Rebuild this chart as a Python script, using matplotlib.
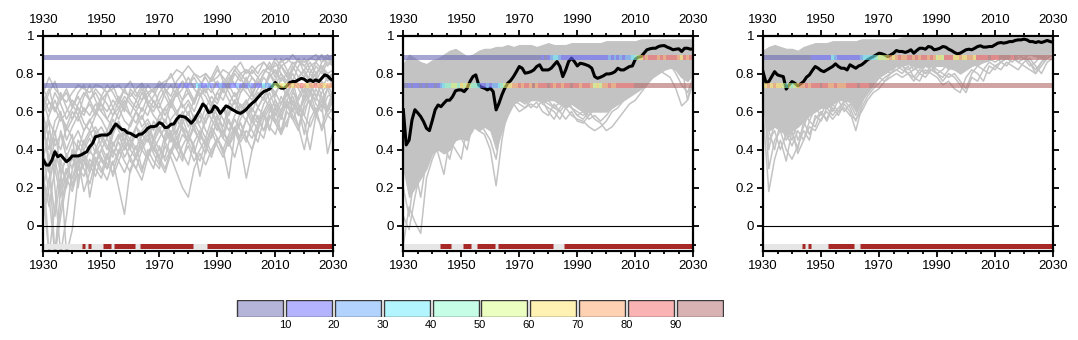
import numpy as np
import matplotlib
matplotlib.use("Agg")
import matplotlib.pyplot as plt
from matplotlib.colors import ListedColormap
from matplotlib.patches import Rectangle
from matplotlib.ticker import FixedLocator, MultipleLocator

plt.rcParams['font.family'] = ['Liberation Sans', 'DejaVu Sans']

# ---------------- data ----------------
years = np.arange(1930, 2031)
member_years = np.arange(1930, 2031, 2)
xtick_labels = ['1930', '1950', '1970', '1990', '2010', '2030']
ytick_labels = ['0', '0.2', '0.4', '0.6', '0.8', '1']
cbar_labels = ['10', '20', '30', '40', '50', '60', '70', '80', '90']
cbar_colors = ['#b5b5da', '#b3b3ff', '#b3d3ff', '#b3f5ff', '#c6fde6',
               '#ebffc0', '#fff2b3', '#ffd1b3', '#f9b3b3', '#d9b3b3']
thresholds = [0.885, 0.736]

p1_mean = [0.346, 0.319, 0.319, 0.346, 0.389, 0.363, 0.372, 0.354, 0.337, 0.349,
           0.367, 0.367, 0.367, 0.372, 0.381, 0.389, 0.416, 0.433, 0.468, 0.472,
           0.477, 0.477, 0.477, 0.486, 0.512, 0.535, 0.521, 0.507, 0.504, 0.489,
           0.486, 0.477, 0.468, 0.481, 0.482, 0.495, 0.512, 0.521, 0.521, 0.525,
           0.542, 0.535, 0.516, 0.518, 0.533, 0.535, 0.560, 0.577, 0.574, 0.570,
           0.556, 0.539, 0.556, 0.582, 0.609, 0.640, 0.626, 0.595, 0.600, 0.630,
           0.618, 0.591, 0.609, 0.630, 0.623, 0.612, 0.604, 0.595, 0.591, 0.600,
           0.612, 0.630, 0.644, 0.656, 0.674, 0.691, 0.705, 0.711, 0.718, 0.735,
           0.753, 0.735, 0.723, 0.723, 0.735, 0.753, 0.758, 0.758, 0.767, 0.775,
           0.770, 0.758, 0.767, 0.758, 0.767, 0.758, 0.775, 0.793, 0.788, 0.772,
           0.763]
p2_mean = [0.610, 0.425, 0.450, 0.556, 0.610, 0.593, 0.574, 0.547, 0.512, 0.500,
           0.553, 0.610, 0.635, 0.626, 0.644, 0.660, 0.660, 0.679, 0.709, 0.714,
           0.714, 0.705, 0.723, 0.758, 0.784, 0.793, 0.740, 0.728, 0.723, 0.714,
           0.723, 0.705, 0.609, 0.644, 0.688, 0.723, 0.749, 0.763, 0.784, 0.810,
           0.837, 0.828, 0.802, 0.805, 0.810, 0.819, 0.837, 0.846, 0.819, 0.819,
           0.819, 0.828, 0.846, 0.863, 0.837, 0.784, 0.819, 0.863, 0.881, 0.863,
           0.840, 0.854, 0.851, 0.846, 0.840, 0.828, 0.784, 0.775, 0.781, 0.788,
           0.798, 0.798, 0.802, 0.810, 0.828, 0.819, 0.819, 0.828, 0.837, 0.840,
           0.875, 0.886, 0.889, 0.907, 0.925, 0.930, 0.933, 0.933, 0.942, 0.946,
           0.947, 0.939, 0.933, 0.925, 0.928, 0.930, 0.916, 0.933, 0.933, 0.928,
           0.930]
p3_mean = [0.810, 0.753, 0.758, 0.784, 0.810, 0.793, 0.788, 0.784, 0.718, 0.740,
           0.758, 0.749, 0.735, 0.746, 0.758, 0.781, 0.793, 0.816, 0.837, 0.828,
           0.816, 0.810, 0.819, 0.828, 0.837, 0.851, 0.837, 0.828, 0.828, 0.819,
           0.846, 0.837, 0.828, 0.840, 0.846, 0.858, 0.872, 0.881, 0.889, 0.898,
           0.907, 0.904, 0.898, 0.889, 0.898, 0.907, 0.921, 0.916, 0.916, 0.911,
           0.916, 0.925, 0.907, 0.921, 0.933, 0.933, 0.928, 0.942, 0.939, 0.925,
           0.928, 0.933, 0.942, 0.939, 0.928, 0.921, 0.911, 0.904, 0.907, 0.916,
           0.925, 0.928, 0.925, 0.933, 0.942, 0.946, 0.939, 0.939, 0.942, 0.942,
           0.951, 0.960, 0.963, 0.960, 0.963, 0.968, 0.968, 0.974, 0.977, 0.977,
           0.981, 0.977, 0.968, 0.968, 0.963, 0.968, 0.963, 0.968, 0.974, 0.968,
           0.965]

# ensemble members (every 2 years)
p1_members = [
    [0.70,0.78,0.72,0.68,0.65,0.70,0.74,0.72,0.70,0.74,0.73,0.70,0.72,0.74,0.70,0.68,0.72,0.75,0.70,0.72,0.74,0.76,0.78,0.82,0.80,0.84,0.80,0.78,0.80,0.76,0.78,0.82,0.80,0.84,0.80,0.82,0.80,0.84,0.86,0.82,0.84,0.86,0.88,0.85,0.87,0.86,0.88,0.87,0.89,0.88,0.86],
    [0.60,0.65,0.62,0.55,0.60,0.66,0.62,0.58,0.66,0.70,0.64,0.60,0.66,0.62,0.68,0.64,0.60,0.66,0.70,0.65,0.62,0.70,0.74,0.68,0.72,0.78,0.72,0.68,0.74,0.70,0.76,0.72,0.78,0.74,0.80,0.76,0.72,0.78,0.82,0.80,0.76,0.84,0.80,0.86,0.82,0.78,0.84,0.86,0.82,0.88,0.84],
    [0.50,0.40,0.55,0.60,0.45,0.52,0.58,0.50,0.55,0.60,0.56,0.50,0.58,0.62,0.55,0.52,0.60,0.56,0.64,0.58,0.54,0.62,0.66,0.60,0.64,0.58,0.66,0.70,0.62,0.68,0.64,0.72,0.66,0.60,0.70,0.74,0.68,0.76,0.72,0.78,0.82,0.76,0.80,0.72,0.78,0.82,0.76,0.80,0.84,0.78,0.80],
    [0.30,-0.15,0.10,0.35,0.20,0.40,0.30,0.45,0.38,0.50,0.42,0.35,0.48,0.55,0.45,0.40,0.52,0.48,0.44,0.55,0.50,0.45,0.56,0.60,0.52,0.48,0.58,0.54,0.62,0.56,0.50,0.62,0.58,0.66,0.60,0.55,0.64,0.70,0.66,0.74,0.70,0.64,0.72,0.60,0.68,0.74,0.70,0.66,0.76,0.72,0.74],
    [0.45,0.55,0.20,-0.15,0.05,0.30,0.42,0.36,0.30,0.40,0.48,0.42,0.36,0.46,0.50,0.40,0.35,0.48,0.52,0.44,0.50,0.56,0.48,0.42,0.54,0.60,0.50,0.45,0.58,0.62,0.54,0.48,0.60,0.66,0.58,0.64,0.70,0.62,0.68,0.74,0.66,0.60,0.70,0.76,0.64,0.58,0.70,0.76,0.68,0.62,0.72],
    [0.20,0.35,0.50,0.30,-0.15,-0.02,0.25,0.35,0.28,0.40,0.34,0.30,0.44,0.38,0.50,0.45,0.36,0.42,0.48,0.40,0.46,0.52,0.46,0.40,0.48,0.44,0.52,0.58,0.50,0.46,0.56,0.62,0.54,0.50,0.60,0.66,0.58,0.54,0.64,0.70,0.62,0.56,0.66,0.72,0.62,0.48,0.64,0.72,0.66,0.60,0.70],
    [0.10,0.25,0.35,0.20,0.30,0.22,0.35,0.18,0.28,0.36,0.30,0.24,0.34,0.20,0.06,0.30,0.36,0.28,0.40,0.34,0.30,0.42,0.36,0.28,0.20,0.15,0.30,0.38,0.32,0.40,0.46,0.38,0.44,0.50,0.42,0.25,0.40,0.50,0.46,0.58,0.54,0.48,0.60,0.56,0.62,0.58,0.52,0.60,0.66,0.58,0.62],
    [0.55,0.30,0.05,0.25,0.38,0.30,0.45,0.40,0.15,0.32,0.40,0.46,0.38,0.44,0.36,0.42,0.48,0.40,0.35,0.46,0.52,0.44,0.38,0.50,0.56,0.48,0.42,0.26,0.40,0.52,0.46,0.40,0.48,0.56,0.50,0.44,0.56,0.62,0.58,0.50,0.64,0.58,0.52,0.66,0.60,0.54,0.40,0.58,0.64,0.38,0.50],
    [0.68,0.60,0.70,0.64,0.56,0.62,0.68,0.60,0.64,0.58,0.66,0.70,0.62,0.56,0.64,0.70,0.66,0.60,0.68,0.72,0.64,0.58,0.66,0.72,0.76,0.70,0.64,0.74,0.78,0.72,0.66,0.74,0.80,0.74,0.70,0.76,0.82,0.78,0.72,0.80,0.86,0.80,0.74,0.82,0.88,0.80,0.76,0.84,0.80,0.86,0.84],
    [0.40,0.15,-0.15,0.10,0.25,0.18,0.30,0.26,0.35,0.30,0.25,0.36,0.32,0.40,0.34,0.28,0.38,0.44,0.36,0.30,0.42,0.34,0.40,0.46,0.38,0.32,0.44,0.50,0.42,0.36,0.46,0.40,0.25,0.48,0.54,0.46,0.52,0.58,0.50,0.56,0.62,0.48,0.55,0.62,0.52,0.40,0.56,0.62,0.50,0.58,0.55],
    [0.65,0.72,0.60,0.66,0.72,0.64,0.58,0.68,0.74,0.66,0.60,0.70,0.74,0.66,0.60,0.72,0.68,0.74,0.66,0.62,0.70,0.74,0.80,0.72,0.66,0.74,0.80,0.76,0.70,0.78,0.84,0.76,0.72,0.80,0.76,0.82,0.78,0.74,0.80,0.84,0.78,0.88,0.82,0.76,0.84,0.88,0.82,0.78,0.86,0.90,0.85],
    [0.35,0.50,0.42,0.48,0.36,0.44,0.50,0.42,0.48,0.52,0.46,0.40,0.50,0.54,0.48,0.42,0.52,0.58,0.50,0.46,0.56,0.50,0.44,0.54,0.60,0.52,0.58,0.52,0.46,0.56,0.62,0.56,0.50,0.58,0.64,0.60,0.54,0.62,0.68,0.62,0.58,0.68,0.62,0.70,0.66,0.72,0.64,0.58,0.70,0.74,0.68],
    [0.58,0.45,0.30,0.50,0.40,0.48,0.20,0.40,0.46,0.38,0.44,0.50,0.42,0.48,0.40,0.46,0.52,0.44,0.50,0.40,0.36,0.48,0.54,0.46,0.52,0.44,0.38,0.48,0.55,0.60,0.52,0.46,0.56,0.48,0.56,0.62,0.56,0.50,0.60,0.66,0.58,0.64,0.70,0.64,0.58,0.68,0.74,0.68,0.62,0.72,0.76],
    [0.25,0.10,0.30,0.15,0.28,0.36,0.26,0.32,0.40,0.34,0.28,0.38,0.26,0.34,0.42,0.36,0.30,0.24,0.36,0.42,0.34,0.28,0.38,0.44,0.36,0.42,0.34,0.40,0.46,0.38,0.44,0.50,0.42,0.48,0.54,0.46,0.40,0.52,0.58,0.64,0.56,0.50,0.62,0.68,0.60,0.66,0.72,0.64,0.60,0.68,0.70],
    [0.72,0.65,0.60,0.70,0.62,0.56,0.64,0.70,0.66,0.60,0.68,0.64,0.58,0.66,0.72,0.66,0.62,0.70,0.64,0.68,0.74,0.68,0.62,0.70,0.76,0.72,0.66,0.74,0.70,0.78,0.74,0.70,0.76,0.82,0.78,0.72,0.78,0.74,0.80,0.86,0.80,0.84,0.78,0.82,0.88,0.84,0.80,0.86,0.90,0.84,0.88],
    [0.15,-0.15,-0.15,0.20,0.30,0.25,0.36,0.30,0.22,0.34,0.40,0.32,0.28,0.38,0.44,0.34,0.30,0.40,0.46,0.38,0.32,0.44,0.50,0.40,0.34,0.46,0.52,0.44,0.38,0.48,0.54,0.46,0.42,0.52,0.46,0.56,0.50,0.44,0.56,0.62,0.54,0.60,0.66,0.58,0.52,0.64,0.70,0.60,0.66,0.72,0.64],
    [0.48,0.58,0.66,0.58,0.50,0.56,0.62,0.54,0.50,0.58,0.64,0.56,0.52,0.60,0.66,0.58,0.54,0.62,0.58,0.66,0.60,0.54,0.64,0.70,0.62,0.66,0.60,0.68,0.72,0.64,0.70,0.66,0.74,0.68,0.72,0.78,0.70,0.76,0.72,0.80,0.74,0.80,0.76,0.84,0.78,0.82,0.86,0.80,0.84,0.80,0.82],
    [0.05,0.20,0.40,0.28,0.36,0.20,0.30,0.38,0.32,0.26,0.36,0.30,0.40,0.34,0.28,0.36,0.42,0.30,0.38,0.44,0.36,0.30,0.40,0.34,0.42,0.48,0.40,0.34,0.44,0.50,0.42,0.36,0.46,0.52,0.44,0.50,0.46,0.54,0.60,0.52,0.48,0.58,0.64,0.56,0.50,0.62,0.66,0.58,0.52,0.62,0.60],
    [0.62,0.70,0.76,0.66,0.70,0.62,0.70,0.74,0.66,0.72,0.68,0.74,0.70,0.64,0.72,0.76,0.70,0.66,0.74,0.70,0.76,0.72,0.68,0.76,0.80,0.74,0.78,0.72,0.80,0.76,0.82,0.78,0.74,0.82,0.86,0.80,0.84,0.80,0.86,0.82,0.88,0.84,0.86,0.90,0.86,0.84,0.88,0.90,0.86,0.88,0.90],
    [0.38,0.28,0.46,0.40,0.52,0.46,0.40,0.50,0.56,0.48,0.52,0.46,0.56,0.50,0.44,0.54,0.60,0.52,0.56,0.50,0.58,0.62,0.54,0.48,0.58,0.64,0.56,0.60,0.54,0.64,0.58,0.52,0.64,0.70,0.62,0.66,0.60,0.68,0.74,0.66,0.70,0.74,0.68,0.76,0.72,0.66,0.76,0.80,0.72,0.78,0.74],
    [0.52,0.35,-0.15,0.05,0.22,0.40,0.34,0.44,0.50,0.42,0.36,0.30,0.42,0.48,0.40,0.46,0.40,0.50,0.54,0.46,0.40,0.36,0.48,0.56,0.50,0.44,0.54,0.48,0.42,0.52,0.58,0.50,0.44,0.36,0.48,0.56,0.62,0.56,0.50,0.60,0.66,0.60,0.70,0.64,0.58,0.70,0.76,0.68,0.74,0.60,0.66],
    [0.66,0.55,0.48,0.58,0.52,0.60,0.55,0.62,0.58,0.64,0.60,0.56,0.62,0.68,0.62,0.58,0.66,0.72,0.64,0.60,0.66,0.72,0.64,0.58,0.66,0.70,0.64,0.72,0.68,0.62,0.70,0.76,0.70,0.64,0.74,0.70,0.66,0.72,0.78,0.74,0.68,0.78,0.74,0.80,0.74,0.70,0.80,0.76,0.82,0.76,0.80],
]
p2_core_hi = [0.85,0.90,0.88,0.86,0.85,0.87,0.88,0.90,0.92,0.93,0.91,0.89,0.90,0.92,0.93,0.93,0.94,0.94,0.95,0.94,0.95,0.95,0.95,0.94,0.95,0.96,0.95,0.95,0.95,0.96,0.96,0.96,0.96,0.96,0.96,0.97,0.97,0.97,0.97,0.97,0.97,0.98,0.98,0.98,0.98,0.98,0.98,0.98,0.98,0.98,0.98]
p2_core_lo = [0.30,0.15,0.20,0.25,0.30,0.38,0.40,0.38,0.40,0.45,0.46,0.45,0.52,0.50,0.52,0.50,0.40,0.50,0.58,0.64,0.66,0.65,0.66,0.66,0.65,0.66,0.66,0.64,0.62,0.64,0.62,0.60,0.60,0.60,0.60,0.60,0.62,0.64,0.66,0.68,0.70,0.72,0.75,0.78,0.80,0.82,0.83,0.82,0.78,0.76,0.80]
p2_members = [
    [0.05,-0.02,0.15,0.30,0.40,0.48,0.38,0.27,0.45,0.52,0.46,0.40,0.55,0.60,0.52,0.58,0.48,0.60,0.66,0.64,0.68,0.66,0.62,0.65,0.60,0.58,0.64,0.60,0.56,0.60,0.55,0.54,0.58,0.62,0.60,0.64,0.62,0.66,0.70,0.72,0.76,0.78,0.80,0.82,0.84,0.85,0.86,0.82,0.78,0.80,0.82],
    [-0.10,0.10,0.02,-0.04,0.25,0.35,0.42,0.50,0.45,0.40,0.35,0.52,0.55,0.50,0.48,0.40,0.21,0.45,0.62,0.66,0.64,0.62,0.66,0.68,0.64,0.62,0.60,0.56,0.62,0.58,0.56,0.55,0.52,0.50,0.52,0.55,0.60,0.62,0.66,0.70,0.72,0.75,0.78,0.80,0.82,0.80,0.78,0.72,0.63,0.66,0.75],
    [0.55,0.35,0.45,0.55,0.60,0.58,0.52,0.60,0.56,0.50,0.55,0.62,0.58,0.52,0.60,0.55,0.45,0.58,0.66,0.70,0.66,0.64,0.68,0.70,0.66,0.64,0.62,0.65,0.68,0.62,0.60,0.58,0.60,0.56,0.54,0.50,0.52,0.56,0.60,0.64,0.66,0.70,0.74,0.78,0.82,0.84,0.86,0.84,0.80,0.76,0.80],
    [0.20,0.05,0.30,0.15,0.35,0.45,0.50,0.42,0.35,0.48,0.52,0.45,0.50,0.56,0.50,0.45,0.35,0.55,0.60,0.64,0.60,0.62,0.64,0.62,0.66,0.60,0.56,0.62,0.66,0.62,0.58,0.60,0.56,0.58,0.55,0.58,0.62,0.64,0.66,0.68,0.72,0.76,0.78,0.80,0.82,0.84,0.85,0.80,0.74,0.70,0.78],
    [0.40,0.20,0.35,0.40,0.50,0.55,0.60,0.55,0.50,0.56,0.60,0.52,0.62,0.66,0.60,0.56,0.50,0.62,0.70,0.72,0.70,0.68,0.72,0.70,0.68,0.66,0.62,0.60,0.64,0.62,0.58,0.56,0.60,0.64,0.62,0.66,0.68,0.70,0.72,0.74,0.78,0.80,0.82,0.84,0.86,0.88,0.86,0.84,0.82,0.80,0.84],
    [0.65,0.50,0.60,0.65,0.55,0.62,0.68,0.64,0.60,0.66,0.70,0.62,0.68,0.72,0.66,0.62,0.55,0.66,0.72,0.74,0.72,0.70,0.74,0.72,0.70,0.68,0.66,0.64,0.68,0.66,0.62,0.60,0.58,0.62,0.60,0.62,0.66,0.68,0.70,0.74,0.76,0.80,0.84,0.86,0.88,0.86,0.88,0.86,0.84,0.66,0.80],
]
p3_core_hi = [0.92,0.94,0.95,0.94,0.93,0.93,0.92,0.94,0.95,0.96,0.96,0.96,0.97,0.97,0.97,0.97,0.97,0.98,0.98,0.98,0.98,0.98,0.98,0.98,0.99,0.99,0.99,0.99,0.99,0.99,0.99,0.99,0.99,0.99,0.99,0.99,0.99,0.99,0.99,0.99,0.99,0.99,0.99,0.99,0.99,0.99,0.99,0.99,0.99,0.99,0.99]
p3_core_lo = [0.70,0.50,0.52,0.50,0.48,0.50,0.52,0.55,0.58,0.60,0.62,0.62,0.64,0.66,0.66,0.65,0.60,0.66,0.70,0.74,0.78,0.80,0.82,0.84,0.84,0.85,0.84,0.83,0.84,0.84,0.84,0.84,0.83,0.82,0.80,0.82,0.84,0.85,0.86,0.87,0.88,0.88,0.88,0.89,0.90,0.90,0.90,0.89,0.88,0.90,0.92]
p3_members = [
    [0.60,0.18,0.35,0.45,0.34,0.50,0.40,0.55,0.48,0.56,0.60,0.55,0.62,0.58,0.64,0.60,0.50,0.62,0.68,0.72,0.75,0.78,0.80,0.82,0.84,0.80,0.82,0.84,0.80,0.82,0.84,0.86,0.82,0.85,0.84,0.86,0.88,0.86,0.88,0.90,0.88,0.90,0.92,0.90,0.86,0.88,0.90,0.92,0.88,0.92,0.94],
    [0.75,0.30,0.45,0.50,0.40,0.35,0.42,0.50,0.45,0.58,0.55,0.62,0.58,0.62,0.65,0.68,0.62,0.65,0.70,0.74,0.78,0.76,0.80,0.82,0.80,0.84,0.78,0.76,0.82,0.80,0.78,0.74,0.76,0.72,0.70,0.78,0.82,0.80,0.76,0.84,0.82,0.86,0.84,0.88,0.86,0.84,0.82,0.80,0.86,0.88,0.90],
    [0.70,0.50,0.40,0.55,0.45,0.50,0.38,0.45,0.52,0.50,0.56,0.60,0.56,0.60,0.62,0.58,0.56,0.60,0.66,0.70,0.72,0.76,0.78,0.80,0.78,0.80,0.76,0.80,0.78,0.82,0.80,0.76,0.80,0.78,0.74,0.70,0.78,0.76,0.82,0.80,0.84,0.82,0.86,0.84,0.82,0.86,0.88,0.84,0.80,0.86,0.88],
    [0.80,0.40,0.55,0.60,0.50,0.45,0.55,0.60,0.55,0.62,0.58,0.65,0.60,0.66,0.60,0.64,0.58,0.66,0.72,0.76,0.80,0.82,0.84,0.86,0.84,0.86,0.82,0.84,0.86,0.84,0.80,0.82,0.86,0.84,0.80,0.84,0.86,0.88,0.86,0.88,0.90,0.86,0.88,0.90,0.88,0.90,0.86,0.82,0.86,0.90,0.92],
    [0.85,0.60,0.62,0.55,0.50,0.58,0.45,0.52,0.60,0.64,0.66,0.62,0.68,0.66,0.70,0.68,0.62,0.70,0.76,0.80,0.82,0.84,0.82,0.86,0.84,0.82,0.84,0.80,0.84,0.82,0.80,0.78,0.82,0.84,0.82,0.84,0.86,0.84,0.86,0.88,0.86,0.88,0.90,0.88,0.90,0.88,0.84,0.86,0.90,0.88,0.92],
    [0.65,0.45,0.50,0.40,0.48,0.42,0.50,0.45,0.55,0.52,0.60,0.56,0.64,0.60,0.66,0.62,0.55,0.64,0.72,0.76,0.80,0.82,0.80,0.84,0.82,0.80,0.78,0.82,0.80,0.84,0.82,0.80,0.78,0.80,0.76,0.72,0.80,0.84,0.82,0.86,0.84,0.86,0.88,0.86,0.90,0.88,0.86,0.80,0.84,0.88,0.90],
]

# percentile class (0-9) of each threshold, per year 1930-2030
p1_band_hi = "0" * 101
p1_band_lo = ("0" * 46 + "0101100" + "32" + "112101210011210121011" + "3" + "22" + "4"
              + "55" + "656" + "7677876778776777")
p2_band_hi = ("0" * 47 + "0101" + "23321" + "111111111111111" + "21212122" + "3456"
              + "878887878888768788")
p2_band_lo = ("0010110101101" + "234" + "4554" + "6565" + "44" + "311212" + "23" + "456"
              + "6" + "7787887978889" + "878878898878887" + "565" + "77877" + "8888889"
              + "9" * 20)
p3_band_hi = ("0" * 17 + "1111111" + "32" + "11111111" + "23333" + "45556767877"
              + "8878788787" + "565" + "888" + "66766776" + "888898889999899999999999999")
p3_band_lo = ("6676766" + "545456" + "7787" + "888988" + "778777" + "888898889" + "9" * 63)

# years flagged significant (runs, inclusive)
p1_sig = [(1944, 1944), (1946, 1946), (1951, 1953), (1955, 1961), (1964, 1981), (1987, 2030)]
p2_sig = [(1943, 1946), (1951, 1953), (1956, 1961), (1963, 1981), (1986, 2030)]
p3_sig = [(1944, 1944), (1946, 1946), (1953, 1961), (1964, 2030)]

panels = [
    dict(mean=p1_mean, members=p1_members, core=None,
         bands=[p1_band_hi, p1_band_lo], sig=p1_sig),
    dict(mean=p2_mean, members=p2_members, core=(p2_core_lo, p2_core_hi),
         bands=[p2_band_hi, p2_band_lo], sig=p2_sig),
    dict(mean=p3_mean, members=p3_members, core=(p3_core_lo, p3_core_hi),
         bands=[p3_band_hi, p3_band_lo], sig=p3_sig),
]

# ---------------- styling ----------------
W, H = 1078, 340
fig = plt.figure(figsize=(W / 100, H / 100), dpi=100)
gray = '#c3c3c3'
band_base = []
for c in cbar_colors:
    rgb = np.array(matplotlib.colors.to_rgb(c))
    band_base.append(np.clip(2 * rgb - 1, 0, 1))
band_cmap = ListedColormap(band_base)

lefts = [43.3, 403.3, 763.0]
ax_w = 290.0
ax_bottom = (H - 250.5) / H
ax_h = 215.0 / H
ymin, ymax = -0.13, 1.0
sig_y = -0.106
band_half = 0.0135
band_lw = 3.6
x_edges = np.append(years - 0.5, years[-1] + 0.5)

for left, pan in zip(lefts, panels):
    ax = fig.add_axes([left / W, ax_bottom, ax_w / W, ax_h])
    ax.set_xlim(1930, 2030)
    ax.set_ylim(ymin, ymax)

    if pan['core'] is not None:
        ax.fill_between(member_years, pan['core'][0], pan['core'][1],
                        color=gray, lw=0.8, edgecolor=gray, zorder=1)
    for m in pan['members']:
        ax.plot(member_years, m, color=gray, lw=1.1, zorder=1.5)

    ax.axhline(0, color='black', lw=0.8, zorder=2)

    ax.plot(years, pan['mean'], color='black', lw=2.2, zorder=3,
            solid_joinstyle='round')

    for thr, codes in zip(thresholds, pan['bands']):
        cats = np.array([[int(ch) for ch in codes]])
        ax.pcolormesh(x_edges, [thr - band_half, thr + band_half], cats,
                      cmap=band_cmap, vmin=-0.5, vmax=9.5, alpha=0.6,
                      shading='flat', antialiased=False, edgecolors='none',
                      zorder=4)

    ax.plot([1930, 2030], [sig_y, sig_y], color='#e6e6e6', lw=band_lw,
            solid_capstyle='butt', zorder=4)
    for a, b in pan['sig']:
        ax.plot([max(a - 0.5, 1930), min(b + 0.5, 2030)], [sig_y, sig_y],
                color='#a82828', lw=band_lw, solid_capstyle='butt', zorder=4.5)

    for sp in ax.spines.values():
        sp.set_linewidth(1.6)
        sp.set_zorder(6)
    ax.xaxis.set_major_locator(FixedLocator([int(t) for t in xtick_labels]))
    ax.set_xticklabels(xtick_labels)
    ax.xaxis.set_minor_locator(MultipleLocator(5))
    ax.yaxis.set_major_locator(FixedLocator([float(t) for t in ytick_labels]))
    ax.set_yticklabels(ytick_labels)
    ax.yaxis.set_minor_locator(FixedLocator([-0.1, 0.1, 0.3, 0.5, 0.7, 0.9]))
    ax.tick_params(which='both', direction='out', top=True, right=True,
                   labeltop=True, labelbottom=True, labelleft=True,
                   labelright=False, labelsize=9.5, width=1.3)
    ax.tick_params(which='major', length=4.5, pad=2)
    ax.tick_params(which='minor', length=2.5)

# ---------------- colour bar ----------------
cax = fig.add_axes([236 / W, (H - 317) / H, (724 - 236) / W, 17 / H])
cax.set_xlim(0, 10)
cax.set_ylim(0, 1)
for i, c in enumerate(cbar_colors):
    cax.add_patch(Rectangle((i + 0.03, 0.02), 0.94, 0.96, facecolor=c,
                            edgecolor='#3a3a3a', lw=1.0))
for i, lab in enumerate(cbar_labels):
    cax.text(i + 1, -0.2, lab, ha='center', va='top', fontsize=8)
cax.axis('off')

fig.savefig('out.png', dpi=100)
